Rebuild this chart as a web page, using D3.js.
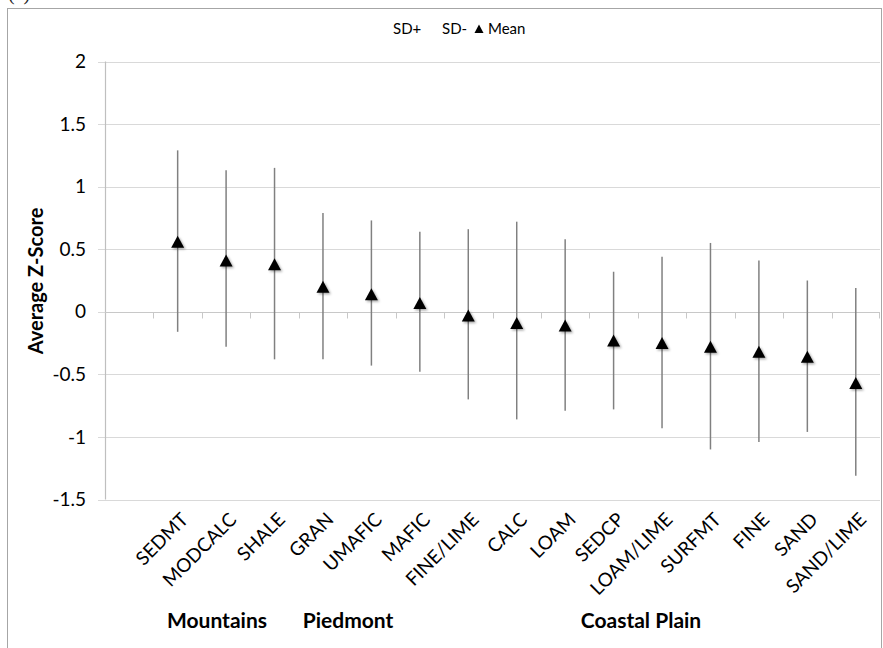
<!DOCTYPE html>
<html>
<head>
<meta charset="utf-8">
<script src="https://cdn.jsdelivr.net/npm/d3@7"></script>
<style>
  body { margin: 0; background: #fff; }
  svg { display: block; font-family: Lato, "Open Sans", sans-serif; }
</style>
</head>
<body>
<svg id="chart" width="883" height="648"></svg>
<script>
// categories (first slot is left empty, as in the original sheet)
var categories = ["", "SEDMT", "MODCALC", "SHALE", "GRAN", "UMAFIC", "MAFIC", "FINE/LIME", "CALC",
    "LOAM", "SEDCP", "LOAM/LIME", "SURFMT", "FINE", "SAND", "SAND/LIME"];
var sdPlus  = [null, 1.29, 1.13, 1.15, 0.79, 0.73, 0.64, 0.66, 0.72, 0.58, 0.32, 0.44, 0.55, 0.41, 0.25, 0.19];
var sdMinus = [null, -0.16, -0.28, -0.38, -0.38, -0.43, -0.48, -0.70, -0.86, -0.79, -0.78, -0.93, -1.10, -1.04, -0.96, -1.31];
var means   = [null, 0.56, 0.41, 0.38, 0.20, 0.14, 0.07, -0.03, -0.09, -0.11, -0.23, -0.25, -0.28, -0.32, -0.36, -0.57];
var yTicks = [-1.5, -1, -0.5, 0, 0.5, 1, 1.5, 2];
var groups = [
    {label: "Mountains", from: "SEDMT", to: "SHALE"},
    {label: "Piedmont", from: "GRAN", to: "MAFIC"},
    {label: "Coastal Plain", from: "FINE/LIME", to: "SAND/LIME"}
];
var legendItems = ["SD+", "SD-", "Mean"];

var svg = d3.select("#chart");

// outer frame and panel letter
svg.append("text")
    .attr("x", 8).attr("y", 0)
    .attr("font-family", "Liberation Serif, serif")
    .attr("font-size", 20)
    .attr("fill", "#222")
    .text("(c)");

svg.append("rect")
    .attr("x", 7.5).attr("y", 8.5)
    .attr("width", 874).attr("height", 700)
    .attr("fill", "none")
    .attr("stroke", "#a6a6a6");

var x = d3.scaleBand().domain(categories).range([105, 880]).padding(0);
var y = d3.scaleLinear().domain([-1.5, 2]).range([499.5, 61.5]);
var cx = d => x(d) + x.bandwidth() / 2;

var defs = svg.append("defs");
var f = defs.append("filter").attr("id", "shadow")
    .attr("x", "-50%").attr("y", "-50%").attr("width", "200%").attr("height", "200%");
f.append("feDropShadow")
    .attr("dx", 1.5).attr("dy", 1.5).attr("stdDeviation", 1.2)
    .attr("flood-color", "#000").attr("flood-opacity", 0.35);

// gridlines + y ticks
var grid = svg.append("g");
grid.selectAll("line.grid")
    .data(yTicks)
    .join("line")
    .attr("class", "grid")
    .attr("x1", 98).attr("x2", 880)
    .attr("y1", d => Math.round(y(d)) + 0.5)
    .attr("y2", d => Math.round(y(d)) + 0.5)
    .attr("stroke", "#d9d9d9")
    .attr("stroke-width", 1.2);

grid.selectAll("text")
    .data(yTicks)
    .join("text")
    .attr("x", 86)
    .attr("y", d => y(d))
    .attr("dy", "0.35em")
    .attr("text-anchor", "end")
    .attr("font-size", 19)
    .attr("fill", "#000")
    .text(d => d);

// y axis line
svg.append("line")
    .attr("x1", 105.5).attr("x2", 105.5)
    .attr("y1", y(2)).attr("y2", y(-1.5))
    .attr("stroke", "#bfbfbf")
    .attr("stroke-width", 1.2);

// x axis at zero with ticks between categories
var y0 = Math.round(y(0)) + 0.5;
svg.append("line")
    .attr("x1", 105).attr("x2", 880)
    .attr("y1", y0).attr("y2", y0)
    .attr("stroke", "#c8c8c8")
    .attr("stroke-width", 1.2);

svg.selectAll("line.xtick")
    .data(categories.slice(1))
    .join("line")
    .attr("class", "xtick")
    .attr("x1", d => Math.round(x(d)) + 0.5)
    .attr("x2", d => Math.round(x(d)) + 0.5)
    .attr("y1", y0).attr("y2", y0 + 6)
    .attr("stroke", "#c8c8c8");
svg.append("line")
    .attr("x1", 879.5).attr("x2", 879.5)
    .attr("y1", y0).attr("y2", y0 + 6)
    .attr("stroke", "#c8c8c8");

// rotated category labels
svg.selectAll("text.xlab")
    .data(categories.slice(1))
    .join("text")
    .attr("class", "xlab")
    .attr("text-anchor", "end")
    .attr("font-size", 19)
    .attr("fill", "#000")
    .attr("transform", d => "translate(" + (cx(d) + 7) + ",516) rotate(-45)")
    .attr("dy", "0.35em")
    .text(d => d);

// SD range lines
var idx = d3.range(1, categories.length);
svg.selectAll("line.sd")
    .data(idx)
    .join("line")
    .attr("class", "sd")
    .attr("x1", i => cx(categories[i]))
    .attr("x2", i => cx(categories[i]))
    .attr("y1", i => y(sdPlus[i]))
    .attr("y2", i => y(sdMinus[i]))
    .attr("stroke", "#808080")
    .attr("stroke-width", 1.5);

// mean markers
var tri = "M0,-6L6.5,6L-6.5,6Z";
svg.selectAll("path.mean")
    .data(idx)
    .join("path")
    .attr("class", "mean")
    .attr("d", tri)
    .attr("transform", i => "translate(" + cx(categories[i]) + "," + y(means[i]) + ")")
    .attr("fill", "#000")
    .attr("filter", "url(#shadow)");

// y axis title
svg.append("text")
    .attr("transform", "translate(43,281) rotate(-90)")
    .attr("text-anchor", "middle")
    .attr("font-size", 20)
    .attr("font-weight", "bold")
    .text("Average Z-Score");

// region labels
svg.selectAll("text.group")
    .data(groups)
    .join("text")
    .attr("class", "group")
    .attr("x", g => {
        if (g.label === "Mountains") return 217;
        if (g.label === "Piedmont") return 348;
        return 641;
    })
    .attr("y", 628)
    .attr("text-anchor", "middle")
    .attr("font-size", 21)
    .attr("font-weight", "bold")
    .text(g => g.label);

// legend
var legendX = [393, 442, 488];
var legend = svg.append("g");
legend.selectAll("text")
    .data(legendItems)
    .join("text")
    .attr("x", (d, i) => legendX[i])
    .attr("y", 29)
    .attr("dy", "0.35em")
    .attr("font-size", 15)
    .text(d => d);
legend.append("path")
    .attr("d", "M0,-4.5L4.5,4L-4.5,4Z")
    .attr("transform", "translate(479,29)")
    .attr("fill", "#000");
</script>
</body>
</html>
